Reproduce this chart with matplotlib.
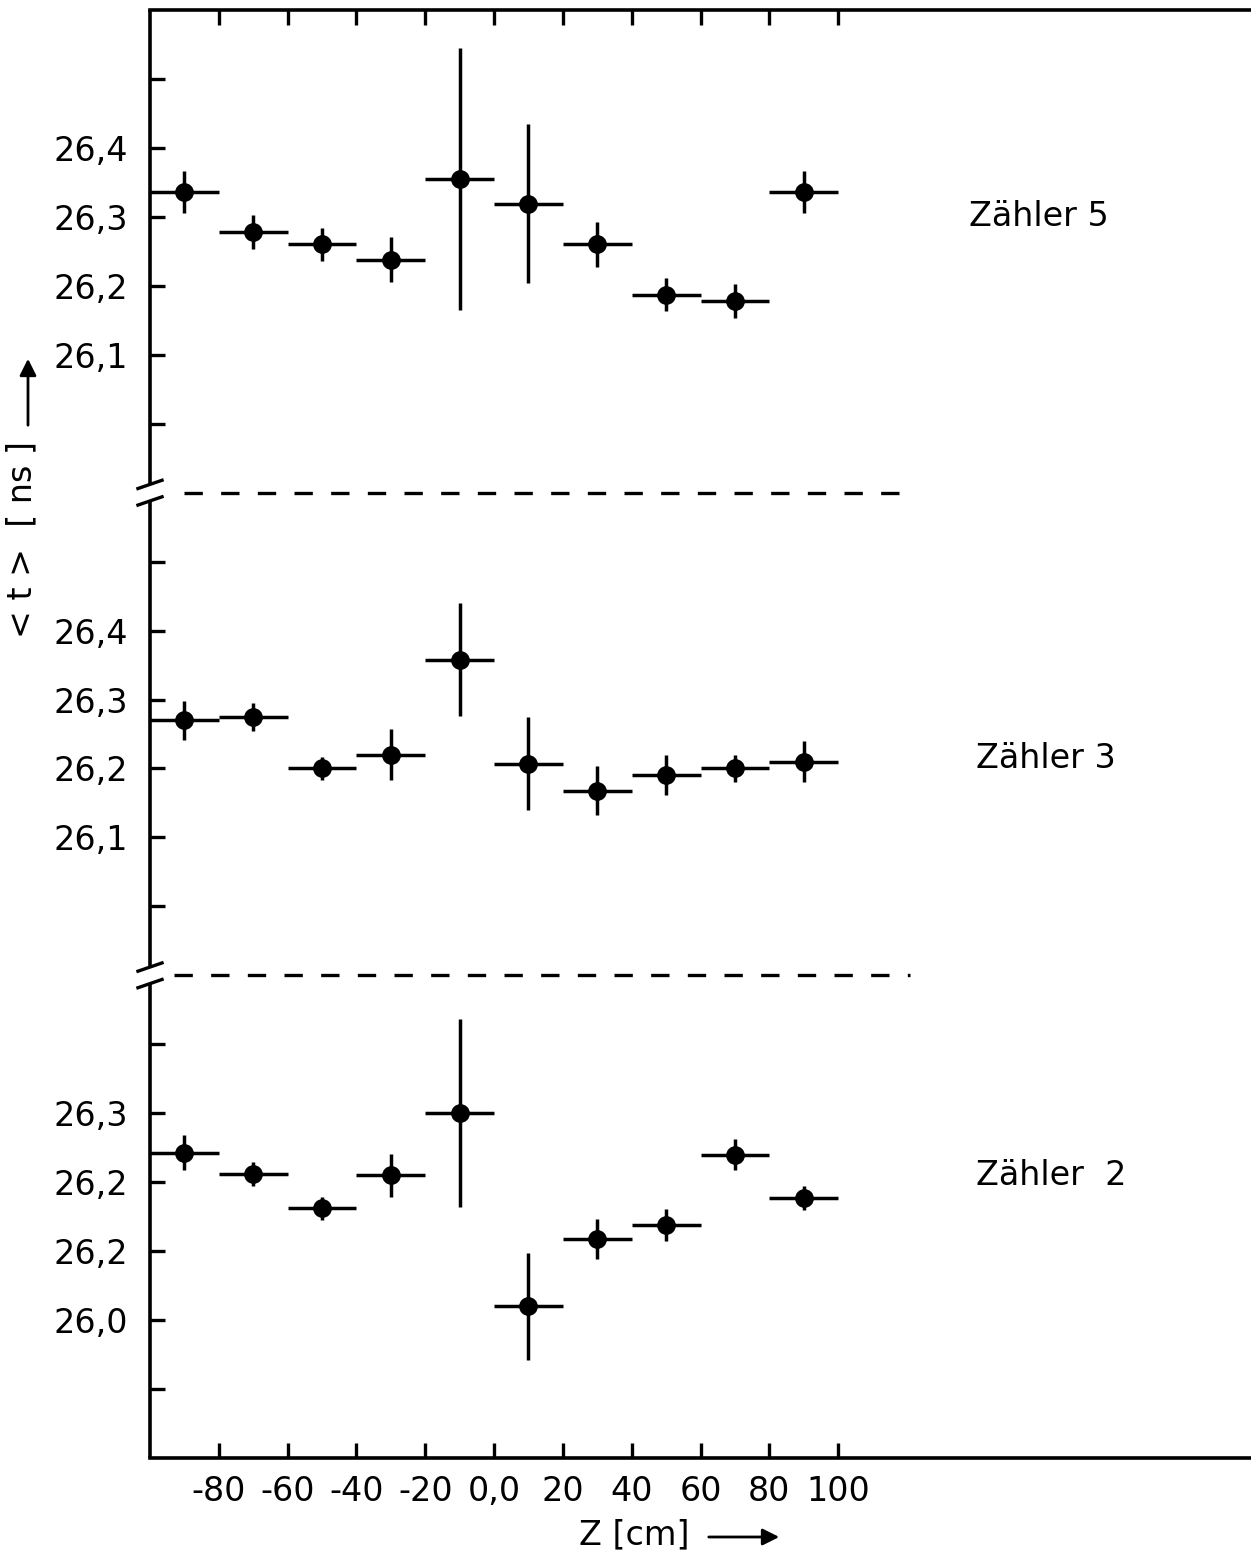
#Import the libraries---------------------------------
import numpy as np
import matplotlib
matplotlib.use("Agg")
import matplotlib.pyplot as plt

#-------------------Data----------------
#z position of the bins [cm]
z = [-90, -70, -50, -30, -10, 10, 30, 50, 70, 90]
zbin = 10  #half width of each z bin

#Zaehler 5 (top panel)
t5 = [26.336, 26.278, 26.26, 26.238, 26.355, 26.319, 26.26, 26.187, 26.178, 26.336]
e5 = [0.03, 0.025, 0.024, 0.033, 0.19, 0.115, 0.033, 0.024, 0.025, 0.03]

#Zaehler 3 (middle panel)
t3 = [26.27, 26.275, 26.2, 26.22, 26.358, 26.207, 26.168, 26.19, 26.2, 26.21]
e3 = [0.028, 0.02, 0.017, 0.037, 0.082, 0.067, 0.035, 0.029, 0.02, 0.03]

#Zaehler 2 (bottom panel)
t2 = [26.243, 26.212, 26.162, 26.21, 26.30, 26.02, 26.117, 26.138, 26.24, 26.177]
e2 = [0.025, 0.018, 0.017, 0.031, 0.136, 0.078, 0.029, 0.023, 0.023, 0.017]

#tick values and labels
xticks = [-80, -60, -40, -20, 0, 20, 40, 60, 80, 100]
xlabels = ["-80", "-60", "-40", "-20", "0,0", "20", "40", "60", "80", "100"]
yticks_53 = [26.0, 26.1, 26.2, 26.3, 26.4, 26.5]
ylabels_53 = ["", "26,1", "26,2", "26,3", "26,4", ""]
yticks_2 = [25.9, 26.0, 26.1, 26.2, 26.3, 26.4]
ylabels_2 = ["", "26,0", "26,2", "26,2", "26,3", ""]  #as printed in the original

#each panel covers 0.7 ns, stacked on one axis
panel_h = 0.7
off5 = 2 * panel_h - 25.9
off3 = panel_h - 25.9
off2 = -25.8

plt.rcParams['font.family'] = ['DejaVu Sans']

fig = plt.figure(figsize=(12.51, 15.51), dpi=100)
ax = fig.add_axes([150 / 1251, 1 - 1458 / 1551, 1 - 150 / 1251, (1458 - 10) / 1551])
ax.set_xlim(-100, 220)
ax.set_ylim(0, 3 * panel_h)

#plot the three sets of points
style = dict(fmt='o', color='black', ms=12.5, elinewidth=2.5, capsize=0)
ax.errorbar(z, np.array(t5) + off5, yerr=e5, xerr=zbin, **style)
ax.errorbar(z, np.array(t3) + off3, yerr=e3, xerr=zbin, **style)
ax.errorbar(z, np.array(t2) + off2, yerr=e2, xerr=zbin, **style)

#dashed separators between the panels
ax.plot([-90, 119], [2 * panel_h, 2 * panel_h], color='black', lw=2.4,
        linestyle=(0, (5.5, 5.5)))
ax.plot([-93, 121], [panel_h, panel_h], color='black', lw=2.4,
        linestyle=(0, (5.5, 5.5)))

#y ticks of all panels on the one axis
ypos = list(np.array(yticks_53) + off5) + list(np.array(yticks_53) + off3) \
    + list(np.array(yticks_2) + off2)
ax.set_yticks(ypos)
ax.set_yticklabels(ylabels_53 + ylabels_53 + ylabels_2)
ax.set_xticks(xticks)
ax.set_xticklabels(xlabels)

ax.tick_params(axis='both', direction='in', length=11, width=2.4,
               labelsize=24)
ax.tick_params(axis='x', top=True, pad=12)
ax.tick_params(axis='y', pad=16)

#frame: left spine drawn by hand so it can have breaks
for s in ['left', 'right']:
    ax.spines[s].set_visible(False)
for s in ['top', 'bottom']:
    ax.spines[s].set_linewidth(2.6)

gap = 0.012
segs = [(0, panel_h - gap), (panel_h + gap, 2 * panel_h - gap),
        (2 * panel_h + gap, 3 * panel_h)]
for y0, y1 in segs:
    ax.plot([-100, -100], [y0, y1], color='black', lw=2.6, clip_on=False,
            solid_capstyle='butt')
for yb in [panel_h, 2 * panel_h]:
    for sgn in [-1, 1]:
        yc = yb + sgn * gap
        ax.plot([-103.5, -96.5], [yc - 0.006, yc + 0.006], color='black',
                lw=2.4, clip_on=False)

#panel names
ax.text(138, 1.8, "Zähler 5", fontsize=24, va='center')
ax.text(140, 1.015, "Zähler 3", fontsize=24, va='center')
ax.text(140, 0.41, "Zähler  2", fontsize=24, va='center')

#axis labels with arrows
fig.text(22 / 1251, 1 - 540 / 1551, "< t >  [ ns ]", rotation=90,
         fontsize=24, ha='center', va='center')
ax.annotate('', xy=(28 / 1251, 1 - 356 / 1551), xytext=(28 / 1251, 1 - 428 / 1551),
            xycoords='figure fraction', textcoords='figure fraction',
            arrowprops=dict(arrowstyle='-|>', lw=2, color='black',
                            mutation_scale=25))
fig.text(634 / 1251, 1 - 1535 / 1551, "Z [cm]", fontsize=24,
         ha='center', va='center')
ax.annotate('', xy=(782 / 1251, 1 - 1537 / 1551), xytext=(706 / 1251, 1 - 1537 / 1551),
            xycoords='figure fraction', textcoords='figure fraction',
            arrowprops=dict(arrowstyle='-|>', lw=2, color='black',
                            mutation_scale=25))

fig.savefig("out.png", dpi=100)
